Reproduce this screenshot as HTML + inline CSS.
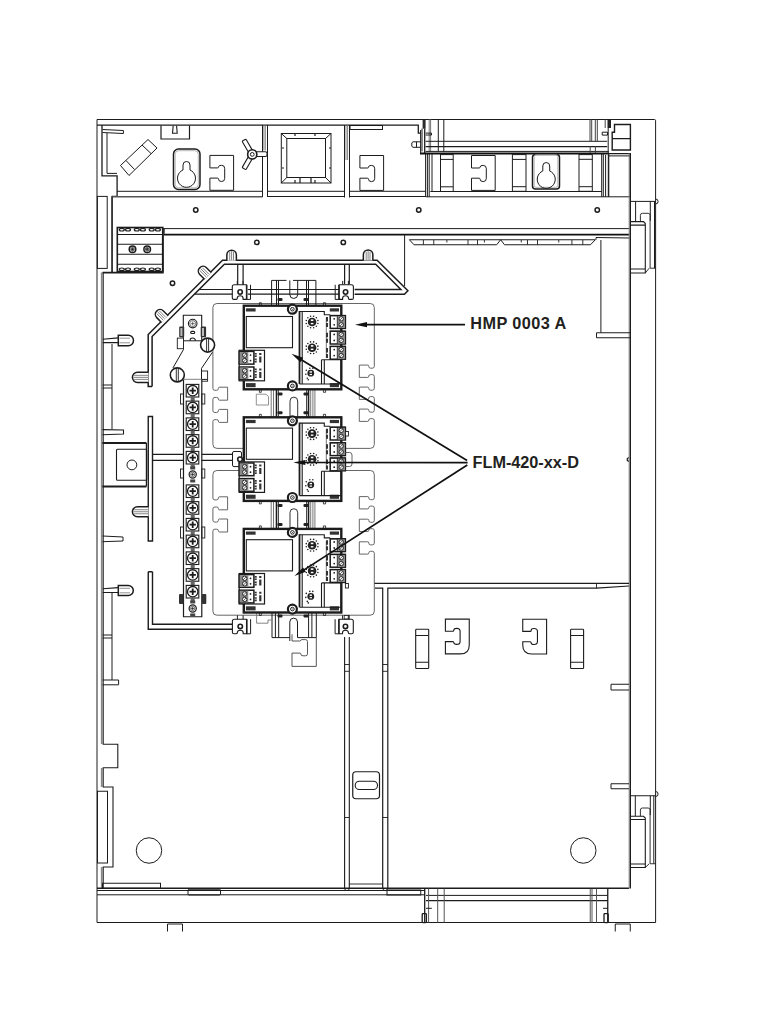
<!DOCTYPE html>
<html><head><meta charset="utf-8"><style>
html,body{margin:0;padding:0;background:#fff;width:768px;height:1024px;overflow:hidden}
svg{position:absolute;left:0;top:0}
.t{font-family:"Liberation Sans",sans-serif;font-weight:bold;font-size:16.3px;fill:#231f20}
</style></head><body>
<svg width="768" height="1024" viewBox="0 0 768 1024">
<g fill="none" stroke="#1c1c1c" stroke-width="1">
<!-- FRAME OUTER -->
<path d="M97,922.5 V119.5 H654.4 Q655.6,119.5 655.6,120.7 V922.5 Z"/>
<path d="M97,125.2 H418.3 V133.1 H420.6" stroke-width="1.3"/>
<path d="M102,125 V175.9 H117.1 V196.3 H112.1 V272.5" stroke-width="1.3"/>
<path d="M107,133 V173.4 H117"/>
<path d="M102.5,129.5 L123.4,130.5 V133.5 L102.5,132.5"/>
<path d="M117,191.3 H262.5"/><path d="M112,196.7 H262.5" stroke="#555" stroke-width="1.4"/>
<rect x="97.4" y="196.4" width="9.8" height="72"/>
<path d="M101.6,272.5 V744 M101.6,768 V787 M101.6,867 V888.5" stroke="#888" stroke-width="1.5"/>
<!-- left inner wall -->
<path d="M103.2,272.5 V744.2 H117.8 V767.7 H103.2 V787 H113 V867 H103.2 V888.75" stroke-width="1.1"/>
<rect x="97.5" y="791.25" width="10" height="71.75"/>
<path d="M112,344 V429 M112,593 V680 M102.5,385 H112 M102.5,388 H112 M102.5,635 H112 M102.5,638 H112"/>
<path d="M102.5,680 H118.6 V684.8 H102.5"/>
<!-- pins -->
<path d="M102.7,339.2 L118.3,337.9 M102.7,342.6 H118.3" stroke-width="1.1"/><path d="M118.3,335.2 H128.3 A5.2,5.25 0 0 1 128.3,345.7 H118.3 Z" stroke-width="1.5" fill="#fff"/><path d="M119.5,338.2 H130 M119.5,342.8 H130" stroke="#888" stroke-width="0.9"/>
<path d="M102.5,536 L123,537 V541 L102.5,541.7"/>
<path d="M102.7,588.8 L118.3,587.6 M102.7,592.5 H118.3" stroke-width="1.1"/><path d="M118.3,585.5 H128.3 A5,5 0 0 1 128.3,595.5 H118.3 Z" stroke-width="1.5" fill="#fff"/><path d="M119.5,588.3 H130 M119.5,592.8 H130" stroke="#888" stroke-width="0.9"/>

<!-- bottom -->
<path d="M97,888.25 H629" stroke-width="1.4"/><path d="M97,890.5 H424.7 M97,894.8 H424.7 M426,895.4 H607.75"/><path d="M426,900.6 H607.75" stroke-width="1.3"/>
<rect x="102.5" y="883.25" width="58" height="5"/>
<rect x="188" y="889.25" width="32.5" height="5.75" rx="1"/>
<rect x="387" y="890" width="33.75" height="5" />
<path d="M167.5,931.5 V924 H182.5 V931.5"/>
<path d="M615.25,931.5 V924 H630.25 V931.5"/>
<path d="M424.7,888.75 V922.5 M607.75,888.75 V922.5" stroke-width="1.3"/><path d="M428.6,888.75 V922.5 M437.7,888.75 V922.5 M444.2,888.75 V922.5 M590.25,888.75 V922.5 M592,888.75 V922.5 M596.5,888.75 V922.5" stroke="#555"/>
<rect x="422.2" y="913.6" width="4.2" height="9" rx="0.8" stroke-width="1.3"/><rect x="604" y="913.6" width="4.2" height="9" rx="0.8" stroke-width="1.3"/>
<path d="M426,908.3 H431.8 M603,908.3 H608"/>
<circle cx="149" cy="850.5" r="12.75"/>
<circle cx="583.25" cy="850.5" r="12.75"/>

<!-- TOP COMPARTMENTS -->
<g>
<path d="M262.5,125 V197 M267.5,125 V197"/><path d="M263.9,125.5 V150.4 M265.3,125.5 V150.4" stroke="#777" stroke-width="0.9"/>
<path d="M161,125.5 V139 H189.5 V125.5" stroke-width="1.2"/><path d="M173.2,125.8 L172.5,133.3 H177.2 L176.6,125.8" stroke-width="1.1"/>
<rect x="173.5" y="149" width="26.5" height="40.5" rx="5" stroke-width="1.5"/>
<rect x="175.2" y="150.7" width="23.1" height="37.1" rx="3.6" stroke="#999" stroke-width="0.7"/>
<path d="M183,170 V165 A3.5,3.5 0 0 1 190,165 V170 A9,9 0 1 1 183,170 Z"/>
<path d="M209.90,155.40 H233.60 V190.30 H209.90 V178.10 H217.50 Q218.50,178.10 218.50,179.10 Q218.50,181.50 221.60,181.50 Q224.70,181.50 224.70,178.40 V168.40 Q224.70,165.30 221.60,165.30 Q218.50,165.30 218.50,166.90 Q218.50,167.90 217.50,167.90 H209.90 Z"/>
<path d="M120.5,165.5 L148,139.5 L157,148 L129,175.5 Z M126,160.5 L134.5,169.5 M142,145 L151,153.5"/>
<!-- Y clip -->
<g transform="translate(252.25,154.4)">
<g transform="rotate(-120)"><rect x="0" y="-2.2" width="16.5" height="4.4" rx="0.8" fill="#fff" stroke-width="1.1"/></g>
<g transform="rotate(120)"><rect x="0" y="-2.2" width="16.5" height="4.4" rx="0.8" fill="#fff" stroke-width="1.1"/></g>
<path d="M0,-2.7 H13 Q14.8,-2.7 14.8,-1 V0.5 Q14.8,2.1 13,2.1 H0" fill="#fff" stroke-width="1.1"/>
<circle r="4.6" fill="#fff" stroke-width="1.6"/><circle r="1.9" stroke-width="1"/>
</g>
<!-- square window -->
<rect x="281.3" y="133.5" width="49.7" height="49.5"/>
<rect x="286.8" y="138.5" width="38.7" height="39"/>
<path d="M281.3,133.5 L286.8,138.5 M331,133.5 L325.5,138.5 M281.3,183 L286.8,177.5 M331,183 L325.5,177.5"/>
<path d="M295,134 v2 M315,134 v2 M282,148 h2 M282,168 h2 M329,148 h2 M329,168 h2 M295,180 v3 M300,178 v5 M311,178 v5 M315,180 v3" stroke-width="1.2"/>
<!-- compartment 2 -->
<path d="M344.5,125 V197.5 M349.5,125 V197.5"/><path d="M346,125.5 V160 M347.6,125.5 V160" stroke="#777" stroke-width="0.9"/>
<rect x="350" y="125.5" width="32.5" height="4"/>
<path d="M359.90,155.50 H383.60 V190.40 H359.90 V178.20 H367.50 Q368.50,178.20 368.50,179.20 Q368.50,181.60 371.60,181.60 Q374.70,181.60 374.70,178.50 V168.50 Q374.70,165.40 371.60,165.40 Q368.50,165.40 368.50,167.00 Q368.50,168.00 367.50,168.00 H359.90 Z"/>
<path d="M267.5,191.3 H344.5 M267.5,196.5 H344.5 M349.5,191.3 H425.7 M349.5,196.5 H425.7"/>
<path d="M425.6,154 V197 M427.4,154 V197 M429.2,154 V197 M432,154 V191.5"/>
<!-- top right region upper -->
<path d="M420.6,130 V154.1 M422,128.6 V151.4"/><path d="M424.7,128.6 V154" stroke-width="1.3"/><rect x="422.6" y="119.5" width="3" height="9.2" fill="#2a2a2a" stroke="none"/><path d="M429.2,119.5 V151.4 M430.6,119.5 V151.4" stroke="#777"/><path d="M438.3,119.5 V151.4 M443.8,119.5 V151.4"/>
<path d="M425.6,133.1 H431.5 V135 H425.6"/>
<path d="M420.6,141.8 H413 L411.8,142.8 V146.3 L413,147.3 H420.6 M416.5,141.8 V147.3"/>
<path d="M425.6,141.3 H607.2 M425.6,151.4 H608.75"/><path d="M425.6,146.6 H607.2" stroke-width="1.4"/>
<path d="M420,153.4 H609" stroke-width="2" stroke="#111"/>
<path d="M590,119.5 V141.5 M591.7,119.5 V141.5 M595.3,119.5 V141.5 M597.3,119.5 V141.5 M590.2,146.4 V153 M595.4,146.4 V153 M605.2,119.5 V128" stroke="#444"/><path d="M608.2,128 V153 M602.2,132.2 H607.5 V135.1 H602.2 Z"/><path d="M605.6,155 V196.8 M608.3,155 V196.8"/>
<rect x="607.5" y="119.5" width="3.5" height="8.5" fill="#222" stroke="none"/>
<path d="M612.2,150 H630.4 V124.5 H614.5 V132.2 H612.2 Z M612.2,138.6 H630.4" stroke-width="1.4"/>
<!-- lower top-right compartment -->
<path d="M430.3,191.5 H601.7 M426,196.8 H630.3"/>
<rect x="440.5" y="154.6" width="12.7" height="36.9"/><path d="M440.5,159.4 H453.2 M440.5,186.8 H453.2"/>
<path d="M471.50,155.50 H495.20 V190.40 H471.50 V178.20 H479.10 Q480.10,178.20 480.10,179.20 Q480.10,181.60 483.20,181.60 Q486.30,181.60 486.30,178.50 V168.50 Q486.30,165.40 483.20,165.40 Q480.10,165.40 480.10,167.00 Q480.10,168.00 479.10,168.00 H471.50 Z"/>
<rect x="512.4" y="154.6" width="13.6" height="36.7"/><path d="M512.4,159.4 H526 M512.4,186.7 H526"/>
<rect x="532.5" y="154.5" width="27" height="34.5" rx="3" stroke-width="1.5"/>
<rect x="534.2" y="154.5" width="23.6" height="32.8" rx="2" stroke="#999" stroke-width="0.7"/>
<path d="M542.8,171 V166 A3.45,3.45 0 0 1 549.7,166 V171 A9,9 0 1 1 542.8,171 Z"/>
<rect x="579" y="154.6" width="13.3" height="36.7"/><path d="M579,159.3 H592.3 M579,186.7 H592.3"/>
<path d="M601.7,154 V196.8 M603.3,154 V196.8"/>
<path d="M608.7,196.8 V153.7 H630.4 V196.8" stroke-width="1.2"/><path d="M608.7,155.9 H630.3"/>
<!-- band -->
<path d="M112,196.5 V272.5 M97,228.5 H97"/>
<g stroke-width="1.5"><circle cx="195.75" cy="210" r="2.2"/><circle cx="256.8" cy="242.4" r="2.2"/><circle cx="343.3" cy="242.4" r="2.2"/><circle cx="172.5" cy="283.3" r="2.2"/><circle cx="418.75" cy="210" r="2.2"/><circle cx="597.25" cy="210" r="2.2"/></g>
<path d="M163.75,228.6 H629.2"/>
<path d="M163.75,234.6 H629.2" stroke-width="1.9" stroke="#111"/>
<path d="M404.6,234.4 V286"/>
<!-- vent -->
<path d="M409.4,239.75 H595.3 L590.5,244.75 H504.5 L500.6,239.75 L496.7,244.75 H414 Z M596,237.5 L629.7,238 M596,237.5 V239.75"/>
<path d="M423.4,240 v4.75 M433.75,240 v4.75 M468,240 v4.75 M477.5,240 v4.75 M527.5,240 v4.75 M537.5,240 v4.75 M571.9,240 v4.75 M582.8,240 v4.75 M446.9,240 v2.5 M484.4,240 v2.5 M521.25,240 v2.5 M558.75,240 v2.5" stroke-width="0.9"/>
<path d="M600.9,240 V332.75"/><path d="M629,457.6 L627.3,458.6 V460.6 L629,461.4" stroke-width="1.2"/><path d="M629.2,153 V888.5" stroke="#777"/><path d="M630.4,153 V888.5" stroke-width="1.2"/>
<path d="M596.5,332.75 H630 M596.5,337.75 H630 M596.5,332.75 V337.75"/>
<path d="M611,684.25 H629 M611,690 H629 M611,684.25 V690 M611,783.75 H629 M611,788.75 H629 M611,783.75 V788.75"/>
<!-- right side structure -->
<path d="M630.4,201.4 H655.6 M635.6,201.4 V221.2 M650.3,201.4 V220.8 M654.5,201.4 V268.2"/><path d="M630.8,221.6 H643.5 L645.3,223.5 V273 H630.8 M630.8,225.1 H645.3 M630.8,269 H645.3" stroke-width="1.1"/><path d="M640.4,221.6 V215.3 Q640.4,213.3 642.4,213.3 H648.1 Q650.1,213.3 650.1,215.3 V268.2 H655.6 M645.3,273 L649.2,268.2" stroke-width="0.9"/>
<path d="M630.4,795.75 H655.6 M635.3,795.75 V816 M650.3,795.75 V815 M653.8,795.75 V863.75"/><path d="M630.8,816.25 H643.5 L645.3,818 V867.5 H630.8 M630.8,819.5 H645.3 M630.8,864 H645.3" stroke-width="1.1"/><path d="M640.4,816.25 V810 Q640.4,808 642.4,808 H648.1 Q650.1,808 650.1,810 V863.75 H655.6 M645.3,867.5 L649.2,863.75" stroke-width="0.9"/>
<path d="M655.6,199 A2.5,2.5 0 0 1 655.6,204 M655.6,791.5 A2.5,2.5 0 0 1 655.6,796.5"/>
</g>
<path d="M216.9,303.5 H370.3 Q374.3,303.5 374.3,307.5 V366.30 Q374.3,368.20 372.3,368.20 H370.70 Q368.80,368.20 368.80,366.40 Q368.80,365.1 367.80,365.1 H359.30 V377.40 H367.80 Q368.80,377.40 368.80,376.10 Q368.80,374.60 370.70,374.60 H372.3 Q374.3,374.60 374.3,376.50 V388.30 Q374.3,390.20 372.3,390.20 H370.70 Q368.80,390.20 368.80,388.40 Q368.80,387.1 367.80,387.1 H359.30 V399.40 H367.80 Q368.80,399.40 368.80,398.10 Q368.80,396.60 370.70,396.60 H372.3 Q374.3,396.60 374.3,398.50 V410.30 Q374.3,412.20 372.3,412.20 H370.70 Q368.80,412.20 368.80,410.40 Q368.80,409.1 367.80,409.1 H359.30 V421.40 H367.80 Q368.80,421.40 368.80,420.10 Q368.80,418.60 370.70,418.60 H372.3 Q374.3,418.60 374.3,420.50 V444.4 Q374.3,448.4 370.3,448.4 H216.9 Q212.9,448.4 212.9,444.4" stroke="#555" stroke-width="0.9"/>
<path d="M216.9,303.5 Q212.9,303.5 212.9,307.5 V388.40 Q212.9,390.30 214.9,390.30 H216.50 Q218.40,390.30 218.40,388.50 Q218.40,387.2 219.40,387.2 H227.60 V400.20 H219.40 Q218.40,400.20 218.40,398.90 Q218.40,397.40 216.50,397.40 H214.9 Q212.9,397.40 212.9,399.30 V410.60 Q212.9,412.50 214.9,412.50 H216.50 Q218.40,412.50 218.40,410.70 Q218.40,409.4 219.40,409.4 H227.60 V422.40 H219.40 Q218.40,422.40 218.40,421.10 Q218.40,419.60 216.50,419.60 H214.9 Q212.9,419.60 212.9,421.50 V444.4" stroke="#555" stroke-width="0.9"/>
<path d="M216.9,470.5 H370.3 Q374.3,470.5 374.3,474.5 V497.80 Q374.3,499.70 372.3,499.70 H370.70 Q368.80,499.70 368.80,497.90 Q368.80,496.6 367.80,496.6 H359.30 V508.90 H367.80 Q368.80,508.90 368.80,507.60 Q368.80,506.10 370.70,506.10 H372.3 Q374.3,506.10 374.3,508.00 V520.40 Q374.3,522.30 372.3,522.30 H370.70 Q368.80,522.30 368.80,520.50 Q368.80,519.2 367.80,519.2 H359.30 V531.50 H367.80 Q368.80,531.50 368.80,530.20 Q368.80,528.70 370.70,528.70 H372.3 Q374.3,528.70 374.3,530.60 V543.00 Q374.3,544.90 372.3,544.90 H370.70 Q368.80,544.90 368.80,543.10 Q368.80,541.8 367.80,541.8 H359.30 V554.10 H367.80 Q368.80,554.10 368.80,552.80 Q368.80,551.30 370.70,551.30 H372.3 Q374.3,551.30 374.3,553.20 V611.2 Q374.3,615.2 370.3,615.2 H216.9 Q212.9,615.2 212.9,611.2" stroke="#555" stroke-width="0.9"/>
<path d="M216.9,470.5 Q212.9,470.5 212.9,474.5 V498.00 Q212.9,499.90 214.9,499.90 H216.50 Q218.40,499.90 218.40,498.10 Q218.40,496.8 219.40,496.8 H227.60 V509.80 H219.40 Q218.40,509.80 218.40,508.50 Q218.40,507.00 216.50,507.00 H214.9 Q212.9,507.00 212.9,508.90 V520.20 Q212.9,522.10 214.9,522.10 H216.50 Q218.40,522.10 218.40,520.30 Q218.40,519.0 219.40,519.0 H227.60 V532.00 H219.40 Q218.40,532.00 218.40,530.70 Q218.40,529.20 216.50,529.20 H214.9 Q212.9,529.20 212.9,531.10 V611.2" stroke="#555" stroke-width="0.9"/>
<!-- RAIL -->
<path d="M152.1,386.5 H148.2 V334.5 L222.5,260.2 H377.1 L407.9,290.7 L404.4,294.2 H354.6" stroke-width="1.5"/>
<path d="M152.1,386.5 V336.5 L224.4,264.2 H375.7 L400.9,289.5 H354.6" stroke-width="1.5"/>
<path d="M339.6,289.5 H247.8 M339.6,294.2 H247.8 M233.4,289.5 H199.1 M233.4,294.2 H194.4" stroke-width="1.2"/>
<path d="M237.7,264.2 V284.8 M243.1,264.2 V284.8 M344.6,264.2 V284.3 M349.3,264.2 V284.3" stroke-width="1.2"/>
<path d="M148.25,416.5 V541 H152.5 V416.5 Z M148.25,571.75 V629.25 H233.4 M152.5,571.75 V624.25 H233.4 M148.25,571.75 H152.5" stroke-width="1.4"/>
<path d="M152.5,454.3 H233.4 M152.5,460.4 H233.4" stroke-width="1.2"/>
<g transform="translate(231.6,260.2) rotate(0)"><path d="M-4.75,0.5 V-5.25 A4.75,4.75 0 0 1 4.75,-5.25 V0.5" stroke-width="1.5" fill="#fff"/><path d="M-1.90,0 V-8.2 M0,0 V-9 M1.90,0 V-8.2" stroke-width="0.8" stroke="#666"/></g>
<g transform="translate(368.1,260) rotate(0)"><path d="M-4.75,0.5 V-5.25 A4.75,4.75 0 0 1 4.75,-5.25 V0.5" stroke-width="1.5" fill="#fff"/><path d="M-1.90,0 V-8.2 M0,0 V-9 M1.90,0 V-8.2" stroke-width="0.8" stroke="#666"/></g>
<g transform="translate(207.5,275.5) rotate(-45)"><path d="M-4.75,0.5 V-6.25 A4.75,4.75 0 0 1 4.75,-6.25 V0.5" stroke-width="1.5" fill="#fff"/><path d="M-1.90,0 V-9.2 M0,0 V-10 M1.90,0 V-9.2" stroke-width="0.8" stroke="#666"/></g>
<g transform="translate(164.5,318.7) rotate(-45)"><path d="M-4.75,0.5 V-6.25 A4.75,4.75 0 0 1 4.75,-6.25 V0.5" stroke-width="1.5" fill="#fff"/><path d="M-1.90,0 V-9.2 M0,0 V-10 M1.90,0 V-9.2" stroke-width="0.8" stroke="#666"/></g>
<g transform="translate(148,377.35) rotate(-90)"><path d="M-5.05,0.5 V-10.55 A5.05,5.05 0 0 1 5.05,-10.55 V0.5" stroke-width="1.5" fill="#fff"/><path d="M-2.02,0 V-13.799999999999999 M0,0 V-14.6 M2.02,0 V-13.799999999999999" stroke-width="0.8" stroke="#666"/></g>
<g transform="translate(148,511.75) rotate(-90)"><path d="M-5.05,0.5 V-10.55 A5.05,5.05 0 0 1 5.05,-10.55 V0.5" stroke-width="1.5" fill="#fff"/><path d="M-2.02,0 V-13.799999999999999 M0,0 V-14.6 M2.02,0 V-13.799999999999999" stroke-width="0.8" stroke="#666"/></g><g transform="translate(232.3,284.8)"><path d="M0,13.1 V2 Q0,0 2,0 H14.1 V14.6 H10.8 V13.6 Q10.8,11 7.85,11 Q4.9,11 4.9,13.6 Q4.9,14.6 3.5,14.6 H1.5 Q0,14.6 0,13.1 Z" stroke-width="1.1" fill="#fff"/><circle cx="7.85" cy="7.2" r="2.2" stroke-width="1.6" fill="#fff"/><path d="M14.7,0 V14.6 M18.2,0 V14.6 M14.1,14.6 H18.2" stroke-width="1"/><path d="M5,-3.9 V0 M10.7,-3.9 V0" stroke-width="1"/></g>
<g transform="translate(339.3,284.8) translate(14.1,0) scale(-1,1)"><path d="M0,13.1 V2 Q0,0 2,0 H14.1 V14.6 H10.8 V13.6 Q10.8,11 7.85,11 Q4.9,11 4.9,13.6 Q4.9,14.6 3.5,14.6 H1.5 Q0,14.6 0,13.1 Z" stroke-width="1.1" fill="#fff"/><circle cx="7.85" cy="7.2" r="2.2" stroke-width="1.6" fill="#fff"/><path d="M14.7,0 V14.6 M18.2,0 V14.6 M14.1,14.6 H18.2" stroke-width="1"/><path d="M5,-3.9 V0 M10.7,-3.9 V0" stroke-width="1"/></g>
<g transform="translate(232.4,619.2)"><path d="M0,13.1 V2 Q0,0 2,0 H14.1 V14.6 H10.8 V13.6 Q10.8,11 7.85,11 Q4.9,11 4.9,13.6 Q4.9,14.6 3.5,14.6 H1.5 Q0,14.6 0,13.1 Z" stroke-width="1.1" fill="#fff"/><circle cx="7.85" cy="7.2" r="2.2" stroke-width="1.6" fill="#fff"/><path d="M14.7,0 V14.6 M18.2,0 V14.6 M14.1,14.6 H18.2" stroke-width="1"/><path d="M5,-3.9 V0 M10.7,-3.9 V0" stroke-width="1"/></g>
<g transform="translate(339.2,619.2) translate(14.1,0) scale(-1,1)"><path d="M0,13.1 V2 Q0,0 2,0 H14.1 V14.6 H10.8 V13.6 Q10.8,11 7.85,11 Q4.9,11 4.9,13.6 Q4.9,14.6 3.5,14.6 H1.5 Q0,14.6 0,13.1 Z" stroke-width="1.1" fill="#fff"/><circle cx="7.85" cy="7.2" r="2.2" stroke-width="1.6" fill="#fff"/><path d="M14.7,0 V14.6 M18.2,0 V14.6 M14.1,14.6 H18.2" stroke-width="1"/><path d="M5,-3.9 V0 M10.7,-3.9 V0" stroke-width="1"/></g>
<!-- terminal block -->
<rect x="117.3" y="227.5" width="45.5" height="44" stroke-width="1.6"/>
<path d="M162.8,228 V272.7 H102.5" stroke-width="1.8"/>
<path d="M117.3,234.5 H162.4 M117.3,244.3 H162.4 M117.3,254.2 H162.4 M117.3,264.2 H162.4" stroke-width="1.1"/>
<circle cx="132.5" cy="249.3" r="3.3" stroke-width="1.5"/><circle cx="147.2" cy="249.3" r="3.3" stroke-width="1.5"/><circle cx="132.5" cy="249.3" r="1.8" stroke-width="0.8"/><circle cx="147.2" cy="249.3" r="1.8" stroke-width="0.8"/>
<circle cx="132.5" cy="249.3" r="0.8" fill="#222"/><circle cx="147.2" cy="249.3" r="0.8" fill="#222"/>
<path d="M164.2,228.3 V233.7" />
<ellipse cx="121.8" cy="229.7" rx="2.5" ry="1.3" stroke-width="1.2"/><ellipse cx="121.8" cy="269.3" rx="2.5" ry="1.3" stroke-width="1.2"/><ellipse cx="128" cy="229.7" rx="2.5" ry="1.3" stroke-width="1.2"/><ellipse cx="128" cy="269.3" rx="2.5" ry="1.3" stroke-width="1.2"/><ellipse cx="136.8" cy="229.7" rx="2.5" ry="1.3" stroke-width="1.2"/><ellipse cx="136.8" cy="269.3" rx="2.5" ry="1.3" stroke-width="1.2"/><ellipse cx="142.9" cy="229.7" rx="2.5" ry="1.3" stroke-width="1.2"/><ellipse cx="142.9" cy="269.3" rx="2.5" ry="1.3" stroke-width="1.2"/><ellipse cx="151.7" cy="229.7" rx="2.5" ry="1.3" stroke-width="1.2"/><ellipse cx="151.7" cy="269.3" rx="2.5" ry="1.3" stroke-width="1.2"/><ellipse cx="157.9" cy="229.7" rx="2.5" ry="1.3" stroke-width="1.2"/><ellipse cx="157.9" cy="269.3" rx="2.5" ry="1.3" stroke-width="1.2"/><path d="M183.3,340.8 V315.3 H201.7 V340.8" stroke-width="1.1" fill="#fff"/><circle cx="192.7" cy="323.6" r="4.3" stroke-width="1.1"/><circle cx="192.7" cy="323.6" r="3" stroke-width="0.6"/><path d="M192.7,321.6 V325.6 M190.7,323.6 H194.7" stroke-width="0.6"/><rect x="190.7" y="331.3" width="4" height="2.2" rx="1.1" stroke-width="1.2"/><path d="M189.9,340.8 A2.8,2.8 0 0 1 195.5,340.8" stroke-width="1.1"/><rect x="179.2" y="326.5" width="5" height="10.7" rx="1" fill="#333" stroke="none"/><rect x="200.7" y="326.5" width="5.4" height="10.7" rx="1" fill="#333" stroke="none"/><rect x="180.4" y="328" width="2" height="8" fill="#bbb" stroke="none"/><rect x="202" y="328" width="2" height="8" fill="#bbb" stroke="none"/><path d="M183.3,340.8 H201.7 M183.5,340.8 V349.5 L172.9,368 M212.5,352.2 L201.5,368.4 V379.4 M183.9,379.4 H207.3" stroke-width="1"/><rect x="177.3" y="338.1" width="6.2" height="10.6" stroke-width="0.9" fill="#fff"/><rect x="201.5" y="371" width="6.1" height="10.2" stroke-width="0.9"/><circle cx="207.6" cy="345.1" r="7" stroke-width="1.6" fill="#fff"/><path d="M206.6,338.6 V351.6 M208.6,338.6 V351.6" stroke-width="0.9"/><circle cx="177.3" cy="374.9" r="7" stroke-width="1.6" fill="#fff"/><path d="M176.3,368.4 V381.4 M178.3,368.4 V381.4" stroke-width="0.9"/><path d="M183.5,379.4 V616.75 H201.8 V379.4" stroke-width="1.2" fill="#fff"/><rect x="186.2" y="384.40" width="12.6" height="12.6" stroke-width="1.1" fill="#fff"/><circle cx="192.7" cy="390.70" r="5.2" stroke-width="1.3"/><path d="M192.7,387.50 V393.90 M189.5,390.70 H195.9" stroke-width="1.8"/><rect x="190.7" y="397.00" width="4" height="4" fill="#666" stroke="none"/><rect x="186.2" y="401.15" width="12.6" height="12.6" stroke-width="1.1" fill="#fff"/><circle cx="192.7" cy="407.45" r="5.2" stroke-width="1.3"/><path d="M192.7,404.25 V410.65 M189.5,407.45 H195.9" stroke-width="1.8"/><rect x="190.7" y="413.75" width="4" height="4" fill="#666" stroke="none"/><rect x="186.2" y="417.90" width="12.6" height="12.6" stroke-width="1.1" fill="#fff"/><circle cx="192.7" cy="424.20" r="5.2" stroke-width="1.3"/><path d="M192.7,421.00 V427.40 M189.5,424.20 H195.9" stroke-width="1.8"/><rect x="190.7" y="430.50" width="4" height="4" fill="#666" stroke="none"/><rect x="186.2" y="434.65" width="12.6" height="12.6" stroke-width="1.1" fill="#fff"/><circle cx="192.7" cy="440.95" r="5.2" stroke-width="1.3"/><path d="M192.7,437.75 V444.15 M189.5,440.95 H195.9" stroke-width="1.8"/><rect x="190.7" y="447.25" width="4" height="4" fill="#666" stroke="none"/><rect x="186.2" y="451.40" width="12.6" height="12.6" stroke-width="1.1" fill="#fff"/><circle cx="192.7" cy="457.70" r="5.2" stroke-width="1.3"/><path d="M192.7,454.50 V460.90 M189.5,457.70 H195.9" stroke-width="1.8"/><rect x="190.7" y="464.00" width="4" height="4" fill="#666" stroke="none"/><circle cx="192.7" cy="474.45" r="3.6" stroke-width="1.2"/><circle cx="192.7" cy="474.45" r="2.2" stroke-width="0.6"/><path d="M192.7,472.85 V476.05 M191.1,474.45 H194.3" stroke-width="0.8"/><rect x="190.2" y="466.45" width="5" height="3" fill="#444" stroke="none"/><rect x="190.2" y="479.45" width="5" height="3" fill="#444" stroke="none"/><rect x="186.2" y="484.90" width="12.6" height="12.6" stroke-width="1.1" fill="#fff"/><circle cx="192.7" cy="491.20" r="5.2" stroke-width="1.3"/><path d="M192.7,488.00 V494.40 M189.5,491.20 H195.9" stroke-width="1.8"/><rect x="190.7" y="497.50" width="4" height="4" fill="#666" stroke="none"/><rect x="186.2" y="501.65" width="12.6" height="12.6" stroke-width="1.1" fill="#fff"/><circle cx="192.7" cy="507.95" r="5.2" stroke-width="1.3"/><path d="M192.7,504.75 V511.15 M189.5,507.95 H195.9" stroke-width="1.8"/><rect x="190.7" y="514.25" width="4" height="4" fill="#666" stroke="none"/><rect x="186.2" y="518.40" width="12.6" height="12.6" stroke-width="1.1" fill="#fff"/><circle cx="192.7" cy="524.70" r="5.2" stroke-width="1.3"/><path d="M192.7,521.50 V527.90 M189.5,524.70 H195.9" stroke-width="1.8"/><rect x="190.7" y="531.00" width="4" height="4" fill="#666" stroke="none"/><rect x="186.2" y="535.15" width="12.6" height="12.6" stroke-width="1.1" fill="#fff"/><circle cx="192.7" cy="541.45" r="5.2" stroke-width="1.3"/><path d="M192.7,538.25 V544.65 M189.5,541.45 H195.9" stroke-width="1.8"/><rect x="190.7" y="547.75" width="4" height="4" fill="#666" stroke="none"/><rect x="186.2" y="551.90" width="12.6" height="12.6" stroke-width="1.1" fill="#fff"/><circle cx="192.7" cy="558.20" r="5.2" stroke-width="1.3"/><path d="M192.7,555.00 V561.40 M189.5,558.20 H195.9" stroke-width="1.8"/><rect x="190.7" y="564.50" width="4" height="4" fill="#666" stroke="none"/><rect x="186.2" y="568.65" width="12.6" height="12.6" stroke-width="1.1" fill="#fff"/><circle cx="192.7" cy="574.95" r="5.2" stroke-width="1.3"/><path d="M192.7,571.75 V578.15 M189.5,574.95 H195.9" stroke-width="1.8"/><rect x="190.7" y="581.25" width="4" height="4" fill="#666" stroke="none"/><rect x="186.2" y="585.40" width="12.6" height="12.6" stroke-width="1.1" fill="#fff"/><circle cx="192.7" cy="591.70" r="5.2" stroke-width="1.3"/><path d="M192.7,588.50 V594.90 M189.5,591.70 H195.9" stroke-width="1.8"/><rect x="190.7" y="598.00" width="4" height="4" fill="#666" stroke="none"/><circle cx="192.7" cy="608.45" r="3.6" stroke-width="1.2"/><circle cx="192.7" cy="608.45" r="2.2" stroke-width="0.6"/><path d="M192.7,606.85 V610.05 M191.1,608.45 H194.3" stroke-width="0.8"/><rect x="190.2" y="600.45" width="5" height="3" fill="#444" stroke="none"/><rect x="190.2" y="613.45" width="5" height="3" fill="#444" stroke="none"/><rect x="180.5" y="394" width="3" height="10" stroke-width="0.9"/><rect x="201.8" y="394" width="3" height="10" stroke-width="0.9"/><rect x="180.5" y="469" width="3" height="9" stroke-width="0.9"/><rect x="201.8" y="469" width="3" height="9" stroke-width="0.9"/><rect x="180.5" y="527" width="3" height="11" stroke-width="0.9"/><rect x="201.8" y="527" width="3" height="11" stroke-width="0.9"/><rect x="179" y="594" width="4.5" height="10" rx="1" fill="#333" stroke="none"/><rect x="201.8" y="594" width="4.5" height="10" rx="1" fill="#333" stroke="none"/><path d="M102.4,443 H146.4 M102.4,486.5 H146.4" stroke-width="1.8"/><path d="M146.4,443 V486.5" stroke-width="1.2"/><rect x="116.5" y="449.3" width="30.2" height="30.9" rx="1" stroke-width="1.1"/><circle cx="131.9" cy="464.9" r="4.9" stroke-width="1"/><path d="M102.4,429.6 L123.5,430 V434 L102.4,434.7" stroke-width="1.1"/><path d="M445.40,619.10 H469.25 V644.90 Q469.25,653.90 460.25,653.90 H445.40 V641.60 H452.80 Q453.80,641.60 453.80,642.60 Q453.80,644.40 456.80,644.40 Q460.10,644.40 460.10,641.40 V631.40 Q460.10,628.40 456.80,628.40 Q453.80,628.40 453.80,630.30 Q453.80,631.30 452.80,631.30 H445.40 Z" stroke-width="1.1"/><path d="M522.75,619.20 H546.60 V654.00 H531.75 Q522.75,654.00 522.75,645.00 V641.70 H530.15 Q531.15,641.70 531.15,642.70 Q531.15,644.50 534.15,644.50 Q537.45,644.50 537.45,641.50 V631.50 Q537.45,628.50 534.15,628.50 Q531.15,628.50 531.15,630.40 Q531.15,631.40 530.15,631.40 H522.75 Z" stroke-width="1.1"/><rect x="415.7" y="629.3" width="13" height="39.2" rx="0.8" stroke-width="1.1"/><path d="M415.7,635.50 H428.7 M415.7,662.30 H428.7" stroke-width="1.1"/><rect x="570.6" y="629.3" width="13" height="39.2" rx="0.8" stroke-width="1.1"/><path d="M570.6,635.50 H583.6 M570.6,662.30 H583.6" stroke-width="1.1"/><path d="M374.5,583.3 H629 M375,588.1 H382.7 V888.25 M387.8,888.25 V588.1 H596.5 L629,586" stroke-width="1.2"/><path d="M596.5,583.3 V588.1" stroke-width="0.9"/><path d="M344.6,637 V888.25 M349.3,637 V888.25" stroke-width="1.1"/><path d="M344.6,664.5 H349.3 M344.6,671.3 H349.3 M382.7,664.5 H387.8 M382.7,671.3 H387.8 M344.6,817.5 H349.3 M382.7,817.5 H387.8" stroke-width="0.9"/><path d="M344.6,888.25 A2.3,2.3 0 0 0 349.3,888.25 M382.9,888.25 A2.3,2.3 0 0 0 387.6,888.25 M349.3,884 H382.7" stroke-width="0.9"/><rect x="352.75" y="771.75" width="26.75" height="27" rx="3.2" stroke-width="1.2"/><rect x="355.2" y="781.25" width="22.3" height="8.25" rx="4.1" stroke-width="1.1"/><rect x="232.5" y="451.5" width="9" height="15.1" rx="1.5" stroke-width="1" fill="#fff"/><circle cx="240" cy="459.3" r="2.3" stroke-width="1.6" fill="#fff"/><rect x="344.2" y="615.5" width="5.1" height="3.5" stroke-width="0.8"/><defs>
<g id="mod">
<rect x="0" y="0" width="97.5" height="83.6" stroke-width="2.4" fill="#fff"/>
<rect x="2.5" y="10.8" width="46.2" height="31.2" stroke-width="1.1"/>
<rect x="2.1" y="2.6" width="9.7" height="3.2" fill="#333" stroke="none"/>
<rect x="2.1" y="77.4" width="9.7" height="4.1" fill="#333" stroke="none"/>
<rect x="86" y="2.6" width="9.2" height="3.2" fill="#333" stroke="none"/>
<rect x="86" y="77.4" width="9.2" height="4.1" fill="#333" stroke="none"/>
<path d="M55.7,5.3 V78.3" stroke-width="1.8"/>
<path d="M58.4,5.8 V78.3 M55.7,5.8 H80.5 V9 H86.4 M55.7,78.3 H97.5" stroke-width="1.1"/>
<path d="M77.7,54 V78.3 M80.5,54 V78.3 M77.7,54 H97.5" stroke-width="1.1"/>
<path d="M82.5,12 V52" stroke-width="0.6"/>
<circle cx="68.3" cy="16.3" r="4.3" fill="#222" stroke="none"/><rect x="67.0" y="13.700000000000001" width="2.6" height="1.6" fill="#fff" stroke="none"/><rect x="67.0" y="17.2" width="2.6" height="1.4" fill="#fff" stroke="none"/><circle cx="74.10" cy="17.84" r="0.8" fill="#222" stroke="none"/><circle cx="72.55" cy="20.53" r="0.8" fill="#222" stroke="none"/><circle cx="69.86" cy="22.09" r="0.8" fill="#222" stroke="none"/><circle cx="66.76" cy="22.10" r="0.8" fill="#222" stroke="none"/><circle cx="64.07" cy="20.55" r="0.8" fill="#222" stroke="none"/><circle cx="62.51" cy="17.86" r="0.8" fill="#222" stroke="none"/><circle cx="62.50" cy="14.76" r="0.8" fill="#222" stroke="none"/><circle cx="64.05" cy="12.07" r="0.8" fill="#222" stroke="none"/><circle cx="66.74" cy="10.51" r="0.8" fill="#222" stroke="none"/><circle cx="69.84" cy="10.50" r="0.8" fill="#222" stroke="none"/><circle cx="72.53" cy="12.05" r="0.8" fill="#222" stroke="none"/><circle cx="74.09" cy="14.74" r="0.8" fill="#222" stroke="none"/><circle cx="68.3" cy="42" r="4.3" fill="#222" stroke="none"/><rect x="67.0" y="39.4" width="2.6" height="1.6" fill="#fff" stroke="none"/><rect x="67.0" y="42.9" width="2.6" height="1.4" fill="#fff" stroke="none"/><circle cx="74.10" cy="43.54" r="0.8" fill="#222" stroke="none"/><circle cx="72.55" cy="46.23" r="0.8" fill="#222" stroke="none"/><circle cx="69.86" cy="47.79" r="0.8" fill="#222" stroke="none"/><circle cx="66.76" cy="47.80" r="0.8" fill="#222" stroke="none"/><circle cx="64.07" cy="46.25" r="0.8" fill="#222" stroke="none"/><circle cx="62.51" cy="43.56" r="0.8" fill="#222" stroke="none"/><circle cx="62.50" cy="40.46" r="0.8" fill="#222" stroke="none"/><circle cx="64.05" cy="37.77" r="0.8" fill="#222" stroke="none"/><circle cx="66.74" cy="36.21" r="0.8" fill="#222" stroke="none"/><circle cx="69.84" cy="36.20" r="0.8" fill="#222" stroke="none"/><circle cx="72.53" cy="37.75" r="0.8" fill="#222" stroke="none"/><circle cx="74.09" cy="40.44" r="0.8" fill="#222" stroke="none"/><circle cx="67" cy="67.5" r="3.4" fill="#222" stroke="none"/><rect x="65.8" y="65.6" width="2.4" height="1.4" fill="#fff" stroke="none"/><rect x="65.8" y="68.2" width="2.4" height="1.2" fill="#fff" stroke="none"/><circle cx="63.5" cy="72.5" r="0.8" fill="#222" stroke="none"/><circle cx="62.5" cy="64.5" r="0.8" fill="#222" stroke="none"/><circle cx="66" cy="62.5" r="0.8" fill="#222" stroke="none"/><circle cx="69" cy="62.5" r="0.8" fill="#222" stroke="none"/><circle cx="62" cy="68.5" r="0.8" fill="#222" stroke="none"/><circle cx="64.5" cy="74.0" r="0.8" fill="#222" stroke="none"/><rect x="86.4" y="9.9" width="15.2" height="12.8" stroke-width="1.5" fill="#fff"/><rect x="93.5" y="10.5" width="7.6" height="11.6" fill="#8a8a8a" stroke="none"/><path d="M86.4,9.9 H101.6 M93.5,9.9 V22.700000000000003" stroke-width="0.8"/><circle cx="90.4" cy="13.100000000000001" r="0.9" fill="#222" stroke="none"/><circle cx="97.4" cy="13.100000000000001" r="2.2" stroke-width="0.9" fill="#fff"/><path d="M95.9,14.600000000000001 L98.9,11.600000000000001" stroke-width="0.7"/><circle cx="90.4" cy="19.1" r="0.9" fill="#222" stroke="none"/><circle cx="97.4" cy="19.1" r="2.2" stroke-width="0.9" fill="#fff"/><path d="M95.9,20.6 L98.9,17.6" stroke-width="0.7"/><path d="M83.2,11.4 V15.9 M83.2,17.4 V21.4" stroke-width="2" stroke="#333"/><rect x="86.4" y="25.5" width="15.2" height="12.8" stroke-width="1.5" fill="#fff"/><rect x="93.5" y="26.1" width="7.6" height="11.6" fill="#8a8a8a" stroke="none"/><path d="M86.4,25.5 H101.6 M93.5,25.5 V38.3" stroke-width="0.8"/><circle cx="90.4" cy="28.7" r="0.9" fill="#222" stroke="none"/><circle cx="97.4" cy="28.7" r="2.2" stroke-width="0.9" fill="#fff"/><path d="M95.9,30.2 L98.9,27.2" stroke-width="0.7"/><circle cx="90.4" cy="34.7" r="0.9" fill="#222" stroke="none"/><circle cx="97.4" cy="34.7" r="2.2" stroke-width="0.9" fill="#fff"/><path d="M95.9,36.2 L98.9,33.2" stroke-width="0.7"/><path d="M83.2,27.0 V31.5 M83.2,33.0 V37.0" stroke-width="2" stroke="#333"/><rect x="86.4" y="40.7" width="15.2" height="12.8" stroke-width="1.5" fill="#fff"/><rect x="93.5" y="41.300000000000004" width="7.6" height="11.6" fill="#8a8a8a" stroke="none"/><path d="M86.4,40.7 H101.6 M93.5,40.7 V53.5" stroke-width="0.8"/><circle cx="90.4" cy="43.900000000000006" r="0.9" fill="#222" stroke="none"/><circle cx="97.4" cy="43.900000000000006" r="2.2" stroke-width="0.9" fill="#fff"/><path d="M95.9,45.400000000000006 L98.9,42.400000000000006" stroke-width="0.7"/><circle cx="90.4" cy="49.900000000000006" r="0.9" fill="#222" stroke="none"/><circle cx="97.4" cy="49.900000000000006" r="2.2" stroke-width="0.9" fill="#fff"/><path d="M95.9,51.400000000000006 L98.9,48.400000000000006" stroke-width="0.7"/><path d="M83.2,42.2 V46.7 M83.2,48.2 V52.2" stroke-width="2" stroke="#333"/><rect x="-4.6" y="44.6" width="25.3" height="30.5" stroke-width="1.2" fill="#fff"/><rect x="-4.6" y="45.7" width="14.7" height="12.7" stroke-width="1.5" fill="#fff"/><rect x="-4" y="46.300000000000004" width="8.5" height="11.5" fill="#8a8a8a" stroke="none"/><circle cx="0.9" cy="49.400000000000006" r="2.2" stroke-width="0.9" fill="#fff"/><path d="M-0.6,50.900000000000006 L2.4,47.900000000000006" stroke-width="0.7"/><circle cx="6.7" cy="49.400000000000006" r="0.9" fill="#222" stroke="none"/><circle cx="0.9" cy="54.900000000000006" r="2.2" stroke-width="0.9" fill="#fff"/><path d="M-0.6,56.400000000000006 L2.4,53.400000000000006" stroke-width="0.7"/><circle cx="6.7" cy="54.900000000000006" r="0.9" fill="#222" stroke="none"/><path d="M11.8,47.2 V51.2 M11.8,52.7 V56.7 M16.5,47.2 V49.2 M16.5,50.7 V56.7" stroke-width="2.2" stroke="#333"/><path d="M11,49.2 H13 M11,54.7 H13" stroke-width="0.8" stroke="#fff"/><rect x="-4.6" y="61.3" width="14.7" height="12.7" stroke-width="1.5" fill="#fff"/><rect x="-4" y="61.9" width="8.5" height="11.5" fill="#8a8a8a" stroke="none"/><circle cx="0.9" cy="65.0" r="2.2" stroke-width="0.9" fill="#fff"/><path d="M-0.6,66.5 L2.4,63.5" stroke-width="0.7"/><circle cx="6.7" cy="65.0" r="0.9" fill="#222" stroke="none"/><circle cx="0.9" cy="70.5" r="2.2" stroke-width="0.9" fill="#fff"/><path d="M-0.6,72.0 L2.4,69.0" stroke-width="0.7"/><circle cx="6.7" cy="70.5" r="0.9" fill="#222" stroke="none"/><path d="M11.8,62.8 V66.8 M11.8,68.3 V72.3 M16.5,62.8 V64.8 M16.5,66.3 V72.3" stroke-width="2.2" stroke="#333"/><path d="M11,64.8 H13 M11,70.3 H13" stroke-width="0.8" stroke="#fff"/><circle cx="48.6" cy="3.5" r="4.5" stroke-width="2.2" fill="#fff"/><circle cx="48.6" cy="3.5" r="1.8" stroke-width="1"/><circle cx="48.6" cy="3.5" r="0.5" fill="#222" stroke="none"/><circle cx="48.6" cy="80.2" r="4.5" stroke-width="2.2" fill="#fff"/><circle cx="48.6" cy="80.2" r="1.8" stroke-width="1"/><circle cx="48.6" cy="80.2" r="0.5" fill="#222" stroke="none"/><path d="M15.6,0 V-3 H17.5 V0 M79.6,0 V-3 H81.8 V0 M15.6,83.6 V86.6 H17.5 V83.6 M79.6,83.6 V86.6 H81.8 V83.6" stroke-width="0.8"/></g></defs><path d="M271.2,389.5 V417.3 M273.5,389.5 V417.3 M310.7,389.5 V417.3 M312.9,389.5 V417.3 M314.9,389.5 V417.3" stroke-width="0.8" stroke="#555"/><path d="M276.5,389.5 V417.3 M308.5,389.5 V417.3" stroke-width="1.6"/><path d="M278.5,389.5 V417.3 M306.5,389.5 V417.3" stroke-width="0.8"/><path d="M290,417.3 V401.0 A3.85,3.85 0 0 1 297.7,401.0 V417.3" stroke-width="0.9"/><rect x="277.5" y="392.5" width="5" height="3" rx="1" fill="#222" stroke="none"/><rect x="303.5" y="392.5" width="5" height="3" rx="1" fill="#222" stroke="none"/><rect x="277.5" y="411.3" width="5" height="3" rx="1" fill="#222" stroke="none"/><rect x="303.5" y="411.3" width="5" height="3" rx="1" fill="#222" stroke="none"/><path d="M271.2,501.1 V528.9 M273.5,501.1 V528.9 M310.7,501.1 V528.9 M312.9,501.1 V528.9 M314.9,501.1 V528.9" stroke-width="0.8" stroke="#555"/><path d="M276.5,501.1 V528.9 M308.5,501.1 V528.9" stroke-width="1.6"/><path d="M278.5,501.1 V528.9 M306.5,501.1 V528.9" stroke-width="0.8"/><path d="M290,528.9 V512.6 A3.85,3.85 0 0 1 297.7,512.6 V528.9" stroke-width="0.9"/><rect x="277.5" y="504.1" width="5" height="3" rx="1" fill="#222" stroke="none"/><rect x="303.5" y="504.1" width="5" height="3" rx="1" fill="#222" stroke="none"/><rect x="277.5" y="522.9" width="5" height="3" rx="1" fill="#222" stroke="none"/><rect x="303.5" y="522.9" width="5" height="3" rx="1" fill="#222" stroke="none"/><path d="M256.3,394.2 H266 L268.5,396.5 V405 H256.3 Z" stroke="#777" stroke-width="0.8"/><path d="M271.6,305 V280.4 H286.5 M293,280.4 H315.9 V305 M276.5,280.4 V305 M278.5,280.4 V305 M306.5,280.4 V305 M308.5,280.4 V305" stroke-width="1"/><path d="M289.8,280.4 V294.5 A3.95,3.95 0 0 0 297.7,294.5 V280.4" stroke-width="1"/><rect x="277.5" y="298" width="5" height="3" rx="1" fill="#222" stroke="none"/><rect x="303.5" y="298" width="5" height="3" rx="1" fill="#222" stroke="none"/><path d="M272,612.6 V637.6 H289.8 M297.5,637.6 H316.3 V612.6 M275.4,612.6 V637.6 M278.7,612.6 V637.6 M308.6,612.6 V637.6 M311.9,612.6 V637.6" stroke-width="1"/><path d="M289.8,641 V622 A3.85,3.85 0 0 1 297.5,622 V637.6" stroke-width="1"/><rect x="277.5" y="614.5" width="5" height="3" rx="1" fill="#222" stroke="none"/><rect x="303.5" y="614.5" width="5" height="3" rx="1" fill="#222" stroke="none"/><path d="M256.6,612.6 V623.2 H268 V620 H271" stroke-width="0.8" stroke="#666"/><path d="M292,634.3 V641 H299.8 Q300.8,641 300.8,640 Q301,639.6 303,639.6 H305.5 Q307.5,639.6 307.5,641.6 V653.8 Q307.5,655.8 305.5,655.8 H303 Q300.8,655.8 300.8,654 Q300.8,653.1 299.8,653.1 H292 V666.4 H316.3 V637.6" stroke-width="0.9" stroke="#444"/><use href="#mod" x="243.8" y="305.7"/><use href="#mod" x="243.8" y="417.3"/><use href="#mod" x="243.8" y="528.9"/><rect x="345.4" y="431.5" width="3" height="4.5" stroke-width="0.9" fill="#fff"/><path d="M345.4,452.5 H349.5 Q352,452.5 352,455 V464 Q352,466.5 349.5,466.5 H345.4" stroke-width="0.9" stroke="#555"/><rect x="345.4" y="583.5" width="3" height="4.5" stroke-width="0.9" fill="#fff"/>
</g>
<path d="M465,324.7 L366.00,324.70" stroke="#111" stroke-width="1.7" fill="none"/><path d="M355,324.7 L367.00,327.30 L367.00,322.10 Z" fill="#111" stroke="none"/><path d="M467.1,460.4 L300.90,359.51" stroke="#111" stroke-width="1.7" fill="none"/><path d="M291.5,353.8 L300.41,362.25 L303.11,357.80 Z" fill="#111" stroke="none"/><path d="M467.6,462.6 L304.30,462.51" stroke="#111" stroke-width="1.7" fill="none"/><path d="M293.3,462.5 L305.30,465.11 L305.30,459.91 Z" fill="#111" stroke="none"/><path d="M467.3,465 L303.65,570.15" stroke="#111" stroke-width="1.7" fill="none"/><path d="M294.4,576.1 L305.90,571.80 L303.09,567.43 Z" fill="#111" stroke="none"/><text class="t" x="470.3" y="328.8" textLength="96" lengthAdjust="spacing">HMP 0003 A</text><text class="t" x="472.6" y="467.7" textLength="106.3" lengthAdjust="spacing">FLM-420-xx-D</text>
</svg>
</body></html>
